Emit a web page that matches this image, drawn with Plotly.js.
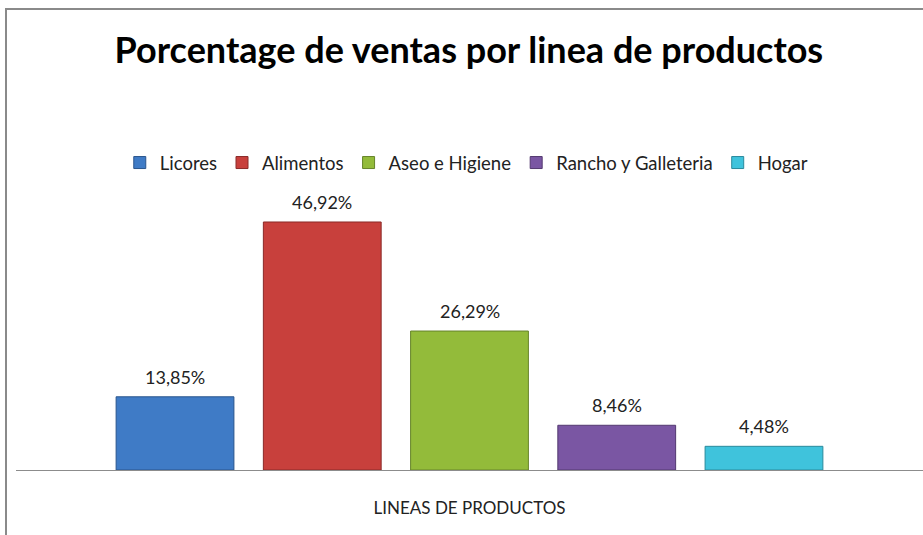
<!DOCTYPE html>
<html>
<head>
<meta charset="utf-8">
<script src="https://cdn.plot.ly/plotly-3.0.1.min.js"></script>
<style>
  html, body { margin: 0; padding: 0; background: #fff; }
  #chart { width: 923px; height: 535px; position: absolute; left: 0; top: 0; }
  #frame { position: absolute; left: 5px; top: 8px; width: 930px; height: 540px;
           border-left: 2px solid #8a8a8a; border-top: 2px solid #8a8a8a; pointer-events: none; }
</style>
</head>
<body>
<div id="chart"></div>
<div id="frame"></div>
<script>
const categories = ["Licores", "Alimentos", "Aseo e Higiene", "Rancho y Galleteria", "Hogar"];
const values = [13.85, 46.92, 26.29, 8.46, 4.48];
const valueLabels = ["13,85%", "46,92%", "26,29%", "8,46%", "4,48%"];
const colors = ["#3f7bc6", "#c8403c", "#93bb3a", "#7a56a3", "#3fc3dc"];
const lineColors = ["#2a558d", "#8a2a28", "#66842a", "#53396f", "#2a8a9c"];
const xTitle = "LINEAS DE PRODUCTOS";
const chartTitle = "Porcentage de ventas por linea de productos";

const traces = categories.map((c, i) => ({
  type: "bar",
  name: c,
  x: [c],
  y: [values[i]],
  width: 0.8,
  marker: { color: colors[i], line: { color: lineColors[i], width: 1 } },
  hoverinfo: "name+y"
}));

const annotations = categories.map((c, i) => ({
  x: c, y: values[i], xref: "x", yref: "y",
  text: valueLabels[i], showarrow: false,
  yanchor: "bottom", yshift: 7,
  font: { family: "Lato, 'Open Sans', sans-serif", size: 18, color: "#222" }
}));

const layout = {
  width: 923, height: 535,
  margin: { l: 16, r: 0, t: 200, b: 65 },
  paper_bgcolor: "#fff", plot_bgcolor: "#fff",
  barmode: "overlay",
  title: {
    text: "<b>" + chartTitle + "</b>",
    font: { family: "Lato, 'Open Sans', sans-serif", size: 36, color: "#000" },
    x: 0.508, xanchor: "center", xref: "container",
    y: 0.905, yanchor: "middle", yref: "container"
  },
  showlegend: true,
  legend: {
    orientation: "h", x: 0.497, xanchor: "center", y: 1.137, yanchor: "middle",
    font: { family: "Lato, 'Open Sans', sans-serif", size: 18.5, color: "#222" },
    itemwidth: 30, traceorder: "normal"
  },
  xaxis: {
    type: "category", categoryorder: "array", categoryarray: categories,
    range: [-1.08, 5.08], showticklabels: false, ticks: "",
    showline: true, linecolor: "#8c8c8c", linewidth: 1, showgrid: false, zeroline: false,
    fixedrange: true,
    title: { text: xTitle, standoff: 32,
      font: { family: "Lato, 'Open Sans', sans-serif", size: 17, color: "#222" } }
  },
  yaxis: {
    range: [0, 51.08], visible: false, showgrid: false, zeroline: false, fixedrange: true
  },
  annotations: annotations
};

Plotly.newPlot("chart", traces, layout, { displayModeBar: false, staticPlot: true });
</script>
</body>
</html>
